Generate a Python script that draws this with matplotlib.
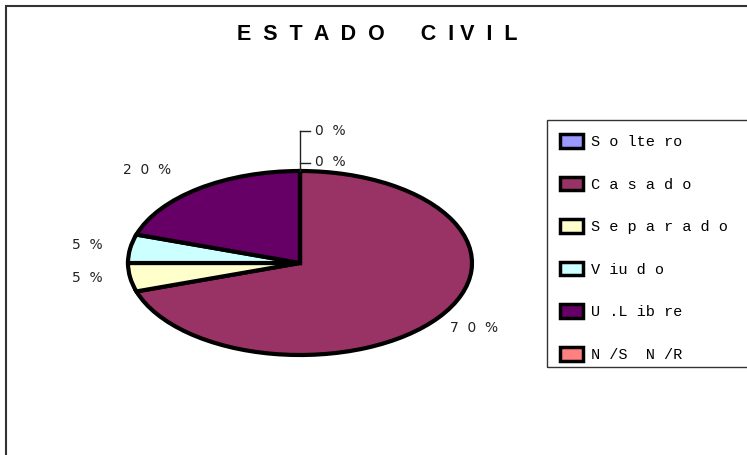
import matplotlib
matplotlib.use("Agg")
import matplotlib.pyplot as plt
from matplotlib.patches import Rectangle, Patch
from matplotlib.lines import Line2D

categories = ["S o lte ro", "C a s a d o", "S e p a r a d o", "V iu d o", "U .L ib re", "N /S  N /R"]
values = [0, 70, 5, 5, 20, 0]
colors = ["#9999FF", "#993366", "#FFFFCC", "#CCFFFF", "#660066", "#FF8080"]
title = "E  S  T  A  D  O      C  I V  I  L"

W, H = 747, 455
fig = plt.figure(figsize=(W / 100, H / 100), dpi=100)
fig.patch.set_facecolor("white")

def fx(x):
    return x / W

def fy(y):
    return 1 - y / H

# outer border
fig.add_artist(Rectangle((fx(6), fy(470)), fx(760), (470 - 6) / H, transform=fig.transFigure,
                         fill=False, edgecolor="#333333", linewidth=1.5))

# pie axes: center (300,263), rx 172, ry 92
cx, cy, rx, ry = 300, 263, 172, 92
ax = fig.add_axes([fx(cx - rx * 1.25), fy(cy + ry * 1.25), 2.5 * rx / W, 2.5 * ry / H])
wedges, _ = ax.pie(values, colors=colors, startangle=90, counterclock=False,
                   wedgeprops=dict(edgecolor="black", linewidth=3.0))
ax.set_aspect("auto")
ax.set_xlim(-1.25, 1.25)
ax.set_ylim(-1.25, 1.25)
ax.axis("off")

# title
fig.text(fx(377), fy(35), title, ha="center", va="center", fontsize=15.5,
         fontweight="bold", family="Liberation Sans")

# percentage labels
total = sum(values)
pct = [f"{round(v * 100 / total)}" for v in values]
def lab(p):
    return "  ".join(list(p)) + "  %"

lab_pos = {0: (315, 131), 1: (450, 328), 2: (72, 278),
           3: (72, 245), 4: (123, 170), 5: (315, 162)}
for i, (x, y) in lab_pos.items():
    fig.text(fx(x), fy(y), lab(pct[i]), ha="left", va="center", fontsize=10,
             family="DejaVu Sans", color="#222222")

# leader lines for zero slices
for seg in [((300, 300), (131, 171)), ((300, 310), (131, 131)), ((300, 310), (163, 163))]:
    fig.add_artist(Line2D([fx(seg[0][0]), fx(seg[0][1])], [fy(seg[1][0]), fy(seg[1][1])],
                          transform=fig.transFigure, color="#222222", linewidth=1.0))

# legend frame
fig.add_artist(Rectangle((fx(547), fy(367)), fx(760) - fx(547), (367 - 120) / H,
                         transform=fig.transFigure, fill=False, edgecolor="#333333", linewidth=1.0))
handles = [Patch(facecolor=c, edgecolor="black", linewidth=2.5) for c in colors]
leg = fig.legend(handles, categories, loc="upper left", bbox_to_anchor=(fx(560), fy(134)),
                 frameon=False, prop=dict(family="Liberation Mono", size=11),
                 handlelength=1.5, handleheight=1.0, handletextpad=0.5,
                 labelspacing=1.80, borderaxespad=0, borderpad=0)

fig.savefig("out.png", dpi=100, facecolor="white")
